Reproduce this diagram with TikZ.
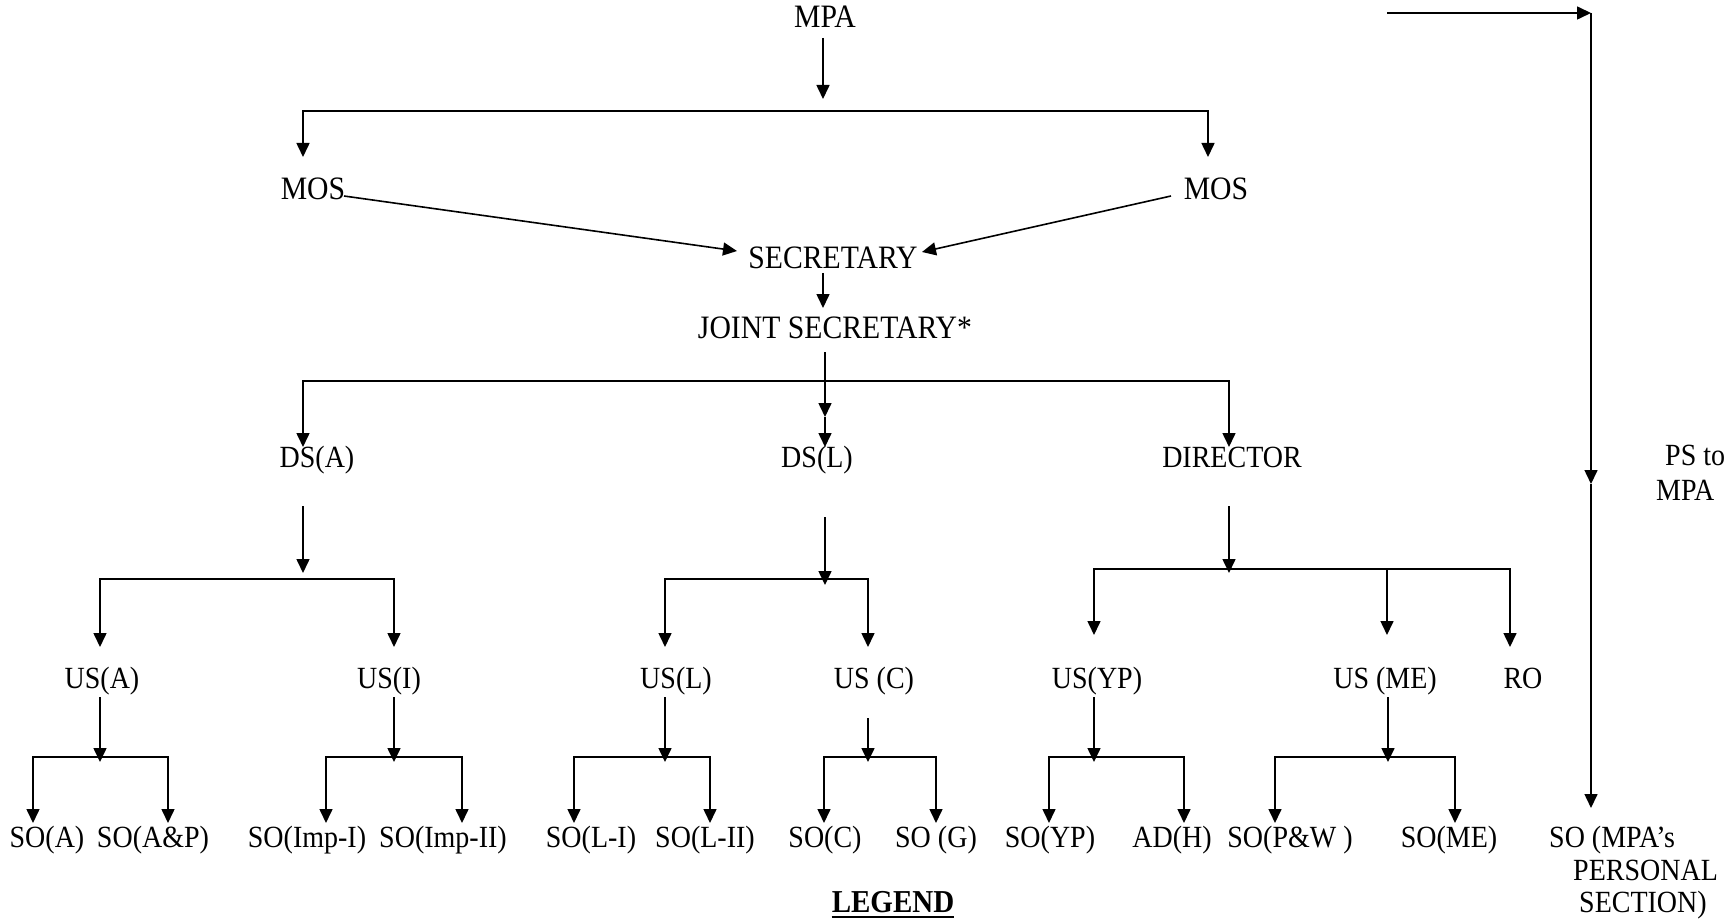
\documentclass[tikz,border=0pt]{standalone}
\usepackage{fontspec}
\setmainfont{Liberation Serif}
\usepackage{graphicx}
\usetikzlibrary{arrows.meta,calc}
\newcommand\T[1]{\scalebox{1}[1.1]{#1}}
\begin{document}
\begin{tikzpicture}[x=1pt,y=-1pt,
  lbl/.style={inner sep=0pt, anchor=base, font=\fontsize{28}{30}\selectfont},
  big/.style={lbl, font=\fontsize{29.7}{31}\selectfont},
  lnk/.style={line width=1.6pt},
  arr/.style={lnk,-{Triangle[length=14pt,width=13pt]}},
  brk/.style={lnk,{Triangle[length=14pt,width=13pt]}-{Triangle[length=14pt,width=13pt]}}]
\useasboundingbox (0,0) rectangle (1733,920);
% nodes
\node[big] (mpa) at (825,28) {\T{MPA}};
\node[big] (mosL) at (313,200) {\T{MOS}};
\node[big] (mosR) at (1216,200) {\T{MOS}};
\node[big] (sec) at (833,269) {\T{SECRETARY}};
\node[big] (js) at (835,338) {\T{JOINT SECRETARY*}};
\node[lbl] (dsa) at (317,467) {\T{DS(A)}};
\node[lbl] (dsl) at (817,467) {\T{DS(L)}};
\node[lbl] (dir) at (1232,467) {\T{DIRECTOR}};
\node[lbl] (usa) at (102,688) {\T{US(A)}};
\node[lbl] (usi) at (389,688) {\T{US(I)}};
\node[lbl] (usl) at (676,688) {\T{US(L)}};
\node[lbl] (usc) at (874,688) {\T{US (C)}};
\node[lbl] (usyp) at (1097,688) {\T{US(YP)}};
\node[lbl] (usme) at (1385,688) {\T{US (ME)}};
\node[lbl] (ro) at (1523,688) {\T{RO}};
\node[lbl] (soa) at (47,847) {\T{SO(A)}};
\node[lbl] (soap) at (153,847) {\T{SO(A\&P)}};
\node[lbl] (soi1) at (307,847) {\T{SO(Imp-I)}};
\node[lbl] (soi2) at (443,847) {\T{SO(Imp-II)}};
\node[lbl] (sol1) at (591,847) {\T{SO(L-I)}};
\node[lbl] (sol2) at (705,847) {\T{SO(L-II)}};
\node[lbl] (soc) at (825,847) {\T{SO(C)}};
\node[lbl] (sog) at (936,847) {\T{SO (G)}};
\node[lbl] (soyp) at (1050,847) {\T{SO(YP)}};
\node[lbl] (adh) at (1172,847) {\T{AD(H)}};
\node[lbl] (sopw) at (1290,847) {\T{SO(P\&W )}};
\node[lbl] (some) at (1449,847) {\T{SO(ME)}};
\node[lbl,anchor=base west] (sompa) at (1549,847) {\T{SO (MPA’s}};
\node[lbl,anchor=base west] (sompb) at (1573,880) {\T{PERSONAL}};
\node[lbl,anchor=base west] (sompc) at (1579,912) {\T{SECTION)}};
\node[lbl,anchor=base west] (psa) at (1665,465) {\T{PS to}};
\node[lbl,anchor=base west] (psb) at (1656,500) {\T{MPA}};
\node[lbl,font=\fontsize{29}{30}\selectfont\bfseries] (leg) at (893,912) {\T{LEGEND}};
\draw[line width=2.5pt] ($(leg.base west)+(0,5)$) -- ($(leg.base east)+(0,5)$);
% top levels
\draw[arr] ($(mpa.base)+(-2,10)$) -- ($(mpa.base)+(-2,71)$);
\draw[brk] ($(mosL.base)+(-10,-43)$) |- ($(mosR.base)+(-8,-89)$) -- ($(mosR.base)+(-8,-43)$);
\draw[arr] ($(mosL.base)+(31,-4)$) -- ($(sec.base)+(-96,-18)$);
\draw[arr] ($(mosR.base)+(-45,-4)$) -- ($(sec.base)+(89,-17)$);
\draw[arr] ($(sec.base)+(-10,4)$) -- ($(js.base)+(-12,-30)$);
\draw[arr] ($(js.base)+(-10,14)$) -- ($(dsl.base)+(8,-50)$);
\draw[arr] ($(dsl.base)+(8,-50)$) -- ($(dsl.base)+(8,-20)$);
\draw[brk] ($(dsa.base)+(-14,-20)$) |- ($(dir.base)+(-3,-86)$) -- ($(dir.base)+(-3,-20)$);
% DS(A)
\draw[arr] ($(dsa.base)+(-14,39)$) -- ($(dsa.base)+(-14,106)$);
\draw[brk] ($(usa.base)+(-2,-41)$) |- ($(usi.base)+(5,-109)$) -- ($(usi.base)+(5,-41)$);
% DS(L)
\draw[arr] ($(dsl.base)+(8,50)$) -- ($(dsl.base)+(8,118)$);
\draw[brk] ($(usl.base)+(-11,-41)$) |- ($(usc.base)+(-6,-109)$) -- ($(usc.base)+(-6,-41)$);
% DIRECTOR
\draw[arr] ($(dir.base)+(-3,39)$) -- ($(dir.base)+(-3,106)$);
\draw[brk] ($(usyp.base)+(-3,-53)$) |- ($(ro.base)+(-13,-119)$) -- ($(ro.base)+(-13,-41)$);
\draw[arr] ($(usme.base)+(2,-119)$) -- ($(usme.base)+(2,-53)$);
% US level
\draw[arr] ($(usa.base)+(-2,9)$) -- ($(usa.base)+(-2,74)$);
\draw[brk] ($(soa.base)+(-14,-24)$) |- ($(soap.base)+(15,-90)$) -- ($(soap.base)+(15,-24)$);
\draw[arr] ($(usi.base)+(5,9)$) -- ($(usi.base)+(5,74)$);
\draw[brk] ($(soi1.base)+(19,-24)$) |- ($(soi2.base)+(19,-90)$) -- ($(soi2.base)+(19,-24)$);
\draw[arr] ($(usl.base)+(-11,9)$) -- ($(usl.base)+(-11,74)$);
\draw[brk] ($(sol1.base)+(-17,-24)$) |- ($(sol2.base)+(5,-90)$) -- ($(sol2.base)+(5,-24)$);
\draw[arr] ($(usc.base)+(-6,30)$) -- ($(usc.base)+(-6,74)$);
\draw[brk] ($(soc.base)+(-1,-24)$) |- ($(sog.base)+(0,-90)$) -- ($(sog.base)+(0,-24)$);
\draw[arr] ($(usyp.base)+(-3,9)$) -- ($(usyp.base)+(-3,74)$);
\draw[brk] ($(soyp.base)+(-1,-24)$) |- ($(adh.base)+(12,-90)$) -- ($(adh.base)+(12,-24)$);
\draw[arr] ($(usme.base)+(3,9)$) -- ($(usme.base)+(3,74)$);
\draw[brk] ($(sopw.base)+(-15,-24)$) |- ($(some.base)+(6,-90)$) -- ($(some.base)+(6,-24)$);
% PS to MPA
\coordinate (psstart) at (1387,13);
\coordinate (pscorner) at (1591,13);
\coordinate (psmid) at ($(psa.base west)+(-74,19)$);
\draw[arr] (psstart) -- (pscorner);
\draw[arr] (pscorner) -- (psmid);
\draw[arr] (psmid) -- ($(sompa.base west)+(42,-39)$);
\end{tikzpicture}
\end{document}
